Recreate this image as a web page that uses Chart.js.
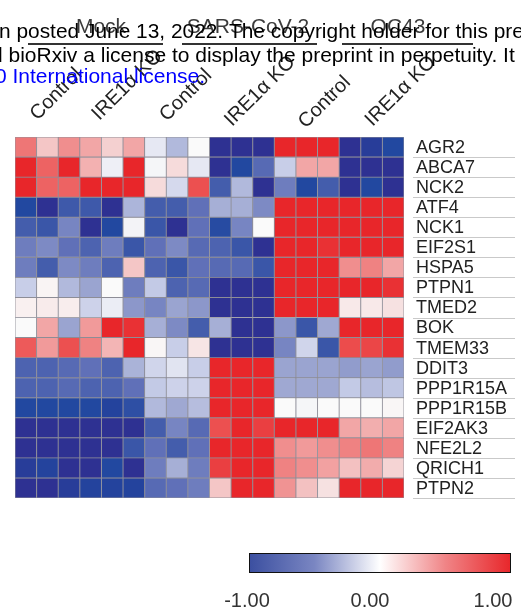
<!DOCTYPE html>
<html lang="en">
<head>
<meta charset="UTF-8">
<title>UPR genes heatmap</title>
<script src="https://cdn.jsdelivr.net/npm/chart.js"></script>
<style>
  body { margin: 0; background: #fff; }
  canvas { display: block; }
</style>
</head>
<body>
<canvas id="heatmap" width="521" height="613"></canvas>
<script>
// rows of the heatmap, top to bottom
const genes = ['AGR2', 'ABCA7', 'NCK2', 'ATF4', 'NCK1', 'EIF2S1', 'HSPA5', 'PTPN1', 'TMED2',
               'BOK', 'TMEM33', 'DDIT3', 'PPP1R15A', 'PPP1R15B', 'EIF2AK3', 'NFE2L2', 'QRICH1', 'PTPN2'];
const groups = ['Mock', 'SARS-CoV-2', 'OC43'];
const conditions = ['Control', 'IRE1α KO'];
const replicates = 3;
const scaleTicks = [-1, 0, 1];

// z-scores per gene, 18 samples: Mock Ctrl x3, Mock KO x3, SARS Ctrl x3, SARS KO x3, OC43 Ctrl x3, OC43 KO x3
const AGR2     = [0.6, 0.25, 0.5, 0.4, 0.2, 0.4, -0.08, -0.3, 0, -1, -1, -1, 1, 1, 1, -1, -0.95, -0.9];
const ABCA7    = [1, 0.7, 1, 0.35, -0.05, 1, -0.02, 0.15, -0.08, -1, -0.9, -0.65, -0.2, 0.4, 0.4, -1, -1, -1];
const NCK2     = [1, 0.7, 0.7, 1, 1, 1, 0.15, -0.15, 0.8, -0.75, -0.3, -1, -0.55, -0.9, -0.75, -1, -0.9, -1];
const ATF4     = [-0.9, -1, -0.78, -0.78, -1, -0.32, -0.75, -0.75, -0.6, -0.35, -0.35, -0.5, 1, 1, 1, 1, 1, 1];
const NCK1     = [-0.75, -0.8, -0.52, -1, -0.9, -0.03, -0.8, -1, -0.6, -0.88, -0.52, 0, 1, 1, 1, 1, 1, 1];
const EIF2S1   = [-0.55, -0.5, -0.6, -0.7, -0.55, -0.8, -0.6, -0.5, -0.65, -0.7, -0.8, -1, 1, 1, 0.95, 1, 1, 1];
const HSPA5    = [-0.55, -0.75, -0.5, -0.55, -0.7, 0.25, -0.7, -0.8, -0.6, -0.65, -0.65, -0.8, 1, 1, 1, 0.5, 0.55, 0.4];
const PTPN1    = [-0.2, 0.03, -0.3, -0.4, 0, -0.55, -0.22, -0.7, -0.65, -1, -1, -1, 1, 1, 1, 1, 1, 0.95];
const TMED2    = [0.05, 0.07, 0.06, -0.18, -0.06, -0.45, -0.52, -0.4, -0.45, -1, -1, -1, 1, 1, 1, 0.08, 0.08, 0.12];
const BOK      = [0, 0.4, -0.4, 0.45, 1, 0.95, -0.35, -0.5, -0.75, -0.35, -1, -1, -0.45, -0.8, -0.38, 1, 1, 1];
const TMEM33   = [0.75, 0.45, 0.8, 0.55, 0.33, 1, 0.02, -0.2, 0.1, -1, -1, -1, -0.52, -0.17, -0.8, 0.82, 0.85, 0.95];
const DDIT3    = [-0.7, -0.7, -0.65, -0.6, -0.7, -0.33, -0.17, -0.1, -0.2, 1, 1, 1, -0.4, -0.4, -0.4, -0.43, -0.4, -0.43];
const PPP1R15A = [-0.7, -0.7, -0.65, -0.7, -0.7, -0.6, -0.22, -0.18, -0.18, 1, 1, 1, -0.38, -0.38, -0.38, -0.22, -0.28, -0.24];
const PPP1R15B = [-0.9, -0.9, -0.9, -0.9, -0.92, -0.85, -0.3, -0.38, -0.28, 1, 1, 1, 0, -0.02, 0, 0, 0, 0.02];
const EIF2AK3  = [-1, -1, -1, -1, -1, -1, -0.75, -0.52, -0.65, 0.8, 1, 0.88, 1, 1, 1, 0.4, 0.36, 0.4];
const NFE2L2   = [-1, -1, -1, -1, -1, -0.8, -0.6, -0.75, -0.6, 1, 1, 1, 0.5, 0.45, 0.5, 0.55, 0.6, 0.55];
const QRICH1   = [-0.95, -0.92, -1, -1, -0.9, -1, -0.55, -0.35, -0.55, 0.88, 1, 1, 0.55, 0.5, 0.42, 0.27, 0.37, 0.18];
const PTPN2    = [-1, -1, -0.95, -0.92, -0.92, -0.92, -0.65, -0.6, -0.55, 0.25, 1, 1, 0.48, 0.27, 0.12, 1, 1, 1];

const zScores = [AGR2, ABCA7, NCK2, ATF4, NCK1, EIF2S1, HSPA5, PTPN1, TMED2,
                 BOK, TMEM33, DDIT3, PPP1R15A, PPP1R15B, EIF2AK3, NFE2L2, QRICH1, PTPN2];

// sample names built from the groups (order matches columns)
const samples = [];
groups.forEach(g => conditions.forEach(c => {
    for (let r = 1; r <= replicates; r++) samples.push(g + ' ' + c + ' ' + r);
}));

// blue - white - red colour scale
const colorStops = [
    [-1, [46, 49, 146]], [-0.9, [34, 72, 160]], [-0.8, [58, 86, 168]], [-0.6, [96, 112, 184]],
    [-0.4, [154, 164, 208]], [-0.2, [200, 206, 232]], [0, [250, 250, 250]], [0.2, [244, 208, 208]],
    [0.4, [242, 166, 166]], [0.6, [238, 118, 118]], [0.8, [236, 80, 80]], [1, [232, 38, 42]]
];

function colorFor(v) {
    v = Math.max(-1, Math.min(1, v));
    for (let i = 1; i < colorStops.length; i++) {
        const [v1, c1] = colorStops[i];
        const [v0, c0] = colorStops[i - 1];
        if (v <= v1) {
            const t = (v - v0) / (v1 - v0);
            const c = c0.map((a, k) => Math.round(a + (c1[k] - a) * t));
            return `rgb(${c[0]},${c[1]},${c[2]})`;
        }
    }
    return 'rgb(232,38,42)';
}

const FONT = '"Liberation Sans", Arial, sans-serif';

const decorations = {
    id: 'decorations',
    afterDraw(chart) {
        const { ctx, chartArea, scales: { x, y } } = chart;
        ctx.save();

        // gene names on the right with thin separators
        ctx.font = '18px ' + FONT;
        ctx.textBaseline = 'middle';
        ctx.textAlign = 'left';
        genes.forEach((g, i) => {
            const yc = y.getPixelForValue(i + 0.5);
            const yb = Math.round(y.getPixelForValue(i + 1)) + 0.5;
            ctx.strokeStyle = '#c9c9c9';
            ctx.lineWidth = 1;
            ctx.beginPath();
            ctx.moveTo(chartArea.right + 9, yb);
            ctx.lineTo(515, yb);
            ctx.stroke();
            ctx.fillStyle = '#222';
            ctx.fillText(g, chartArea.right + 12, yc + 1);
        });

        // group headers with underline
        const headerX = [101, 248, 398];
        const lineSpan = [[28, 163], [182, 317], [342, 473]];
        ctx.font = '21px ' + FONT;
        ctx.textAlign = 'center';
        ctx.textBaseline = 'alphabetic';
        ctx.fillStyle = '#3c3c3c';
        groups.forEach((g, i) => {
            ctx.fillText(g, headerX[i], 33);
            ctx.strokeStyle = '#333';
            ctx.lineWidth = 2;
            ctx.beginPath();
            ctx.moveTo(lineSpan[i][0], 44);
            ctx.lineTo(lineSpan[i][1], 44);
            ctx.stroke();
        });

        // rotated condition labels (nudged to sit where the original puts them)
        const nudgeX = [0, -3, 0, 0, 9, 11];
        const baseY = [121, 121, 122, 127, 129, 127];
        ctx.font = '20px ' + FONT;
        ctx.textAlign = 'left';
        ctx.fillStyle = '#222';
        groups.forEach((g, gi) => conditions.forEach((c, ci) => {
            const k = gi * 2 + ci;
            const first = k * 3;
            const cx = (x.getPixelForValue(first) + x.getPixelForValue(first + 2)) / 2;
            ctx.save();
            ctx.translate(cx - 10 + nudgeX[k], baseY[k]);
            ctx.rotate(-Math.PI / 4);
            ctx.fillText(c, 0, 0);
            ctx.restore();
        }));

        // colour bar
        const bx = 249, by = 553, bw = 262, bh = 20;
        const grad = ctx.createLinearGradient(bx, 0, bx + bw, 0);
        grad.addColorStop(0, '#3b4fa0');
        grad.addColorStop(0.25, '#7a86c2');
        grad.addColorStop(0.5, '#ffffff');
        grad.addColorStop(0.75, '#f08486');
        grad.addColorStop(1, '#e8262a');
        ctx.fillStyle = grad;
        ctx.fillRect(bx, by, bw, bh);
        ctx.strokeStyle = '#111';
        ctx.lineWidth = 1;
        ctx.strokeRect(bx + 0.5, by + 0.5, bw - 1, bh - 1);
        ctx.font = '20px ' + FONT;
        ctx.textAlign = 'center';
        ctx.fillStyle = '#333';
        scaleTicks.forEach(t => {
            const f = (t + 1) / 2;
            ctx.fillText(t.toFixed(2), bx + f * bw - 2 - 16 * f, 607);
        });

        // bioRxiv stamp overlapping the top
        ctx.textAlign = 'left';
        ctx.fillStyle = '#000';
        ctx.font = '20.9px ' + FONT;
        ctx.fillText('n posted June 13, 2022. The copyright holder for this preprint', -1, 38);
        ctx.font = '21px ' + FONT;
        ctx.fillText('d bioRxiv a license to display the preprint in perpetuity. It is made', -9, 62);
        ctx.fillStyle = '#0000ff';
        ctx.fillText('0 International license.', -5, 83);

        ctx.restore();
    }
};

new Chart(document.getElementById('heatmap'), {
    type: 'bar',
    data: {
        labels: samples,
        datasets: genes.map((g, r) => ({
            label: g,
            data: samples.map(() => 1),
            backgroundColor: zScores[r].map(colorFor),
            borderColor: 'rgba(135,135,145,0.9)',
            borderWidth: 0.8,
            borderSkipped: false,
            barPercentage: 1,
            categoryPercentage: 1
        }))
    },
    options: {
        responsive: false,
        animation: false,
        layout: { padding: { left: 15, right: 117, top: 137, bottom: 115 } },
        plugins: { legend: { display: false }, tooltip: { enabled: false } },
        scales: {
            x: { stacked: true, display: false },
            y: { stacked: true, display: false, min: 0, max: 18, reverse: true }
        }
    },
    plugins: [decorations]
});
</script>
</body>
</html>
